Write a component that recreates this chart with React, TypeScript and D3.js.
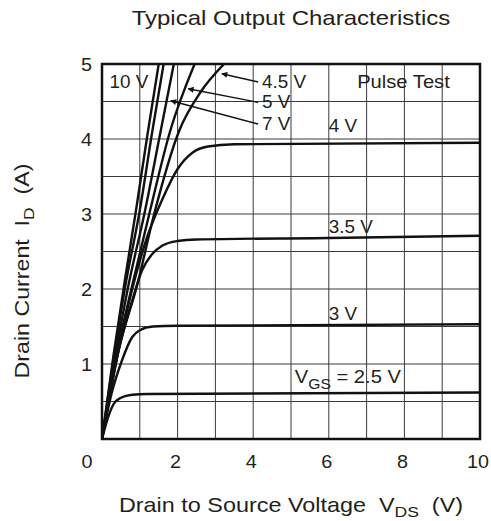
import React from "react";
import * as d3 from "d3";

// drain-source voltage (V) vs drain current (A)
const vgs10 = [[0, 0], [0.3, 1.1], [0.6, 2.1], [0.9, 3.05], [1.2, 4.05], [1.5, 5]];
const vgs8 = [[0, 0], [0.3, 1.05], [0.62, 2.05], [1.0, 3.05], [1.33, 4.1], [1.63, 5]];
const vgs7 = [[0, 0], [0.35, 1.1], [0.7, 2.05], [1.12, 3.0], [1.55, 4.1], [1.9, 5]];
const vgs5 = [[0, 0], [0.4, 1.15], [0.8, 2.05], [1.25, 3.0], [1.8, 4.1], [2.45, 5]];
const vgs45 = [[0, 0], [0.45, 1.2], [0.93, 2.05], [1.38, 3.0], [2.05, 4.12], [2.6, 4.62], [3.23, 5]];
const vgs4 = [[0, 0], [0.4, 1.1], [0.8, 2.0], [1.2, 2.7], [1.6, 3.2], [2.0, 3.6], [2.4, 3.82], [2.8, 3.9], [3.5, 3.93], [10, 3.95]];
const vgs35 = [[0, 0], [0.4, 1.1], [0.8, 1.85], [1.06, 2.25], [1.3, 2.45], [1.6, 2.58], [2.0, 2.64], [2.5, 2.66], [6, 2.68], [10, 2.71]];
const vgs3 = [[0, 0], [0.25, 0.6], [0.53, 1.05], [0.8, 1.36], [1.0, 1.45], [1.35, 1.5], [2, 1.51], [10, 1.53]];
const vgs25 = [[0, 0], [0.15, 0.27], [0.3, 0.46], [0.5, 0.55], [0.8, 0.59], [1.2, 0.6], [10, 0.62]];

const curves = [vgs10, vgs8, vgs7, vgs5, vgs45, vgs4, vgs35, vgs3, vgs25];

const xTicks = [2, 4, 6, 8, 10];
const yTicks = [1, 2, 3, 4, 5];

// arrow labels: text, tail (V, A), tip (V, A)
const arrowLabels = [
  { text: "4.5 V", tail: [4.13, 4.76], tip: [3.17, 4.87] },
  { text: "5 V", tail: [4.13, 4.49], tip: [2.28, 4.67] },
  { text: "7 V", tail: [4.13, 4.2], tip: [1.82, 4.51] },
];

const W = 491;
const H = 521;
const FONT = "'Liberation Sans', Arial, Helvetica, sans-serif";
const INK = "#231f20";

// text that is a bit wider than the font, as in the scanned sheet
const Txt = ({ x, y, size = 18, sx = 1, anchor = "start", rotate = 0, children }: any) => (
  <text
    transform={`translate(${x},${y}) rotate(${rotate}) scale(${sx},1)`}
    textAnchor={anchor}
    fontSize={size}
    fill={INK}
    style={{ whiteSpace: "pre" }}
  >
    {children}
  </text>
);

export default function App() {
  const x = d3.scaleLinear().domain([0, 10]).range([102, 480]);
  const y = d3.scaleLinear().domain([0, 5]).range([439, 64]);

  const line = d3
    .line<number[]>()
    .x((d) => x(d[0]))
    .y((d) => y(Math.min(d[1], 5)))
    .curve(d3.curveMonotoneX);

  const gridX = d3.range(1, 10);
  const gridY = d3.range(0.5, 5, 0.5);

  return (
    <svg
      width={W}
      height={H}
      style={{ position: "absolute", left: 0, top: 0, background: "#fff" }}
      fontFamily={FONT}
    >
      <defs>
        <clipPath id="plot">
          <rect x={x(0)} y={y(5)} width={x(10) - x(0)} height={y(0) - y(5)} />
        </clipPath>
        <marker id="head" viewBox="0 0 10 10" refX="9" refY="5" markerWidth="10" markerHeight="6" orient="auto" markerUnits="userSpaceOnUse">
          <path d="M0,0 L10,5 L0,10 z" fill="#111" />
        </marker>
      </defs>

      <Txt x={291} y={25} size={20} sx={1.2} anchor="middle">
        Typical Output Characteristics
      </Txt>

      {gridX.map((v) => (
        <line key={"gx" + v} x1={x(v)} x2={x(v)} y1={y(0)} y2={y(5)} stroke="#3a3a3a" strokeWidth={1} />
      ))}
      {gridY.map((v) => (
        <line key={"gy" + v} x1={x(0)} x2={x(10)} y1={y(v)} y2={y(v)} stroke="#3a3a3a" strokeWidth={1} />
      ))}

      <g clipPath="url(#plot)">
        {curves.map((c, i) => (
          <path key={i} d={line(c) ?? ""} fill="none" stroke="#111" strokeWidth={2.4} strokeLinejoin="round" />
        ))}
      </g>

      <rect x={x(0)} y={y(5)} width={x(10) - x(0)} height={y(0) - y(5)} fill="none" stroke="#111" strokeWidth={2.5} />

      {arrowLabels.map((a) => (
        <g key={a.text}>
          <line
            x1={x(a.tail[0])}
            y1={y(a.tail[1])}
            x2={x(a.tip[0])}
            y2={y(a.tip[1])}
            stroke="#111"
            strokeWidth={1.4}
            markerEnd="url(#head)"
          />
          <Txt x={x(a.tail[0]) + 4} y={y(a.tail[1]) + 6} size={18} sx={1.05}>
            {a.text}
          </Txt>
        </g>
      ))}

      <Txt x={x(0.2)} y={88} size={18} sx={1.05}>10 V</Txt>
      <Txt x={x(6.75)} y={88} size={18} sx={1.12}>Pulse Test</Txt>
      <Txt x={x(6.0)} y={132} size={18} sx={1.05}>4 V</Txt>
      <Txt x={x(6.0)} y={233} size={18} sx={1.05}>3.5 V</Txt>
      <Txt x={x(6.0)} y={320} size={18} sx={1.05}>3 V</Txt>
      <Txt x={x(5.1)} y={383} size={18} sx={1.12}>
        V<tspan fontSize={14} dy={6}>GS</tspan>
        <tspan dy={-6}> = 2.5 V</tspan>
      </Txt>

      {xTicks.map((v) => (
        <Txt key={"xt" + v} x={x(v) - 2} y={468} size={18} sx={1.1} anchor="middle">
          {v}
        </Txt>
      ))}
      <Txt x={x(0) - 15} y={468} size={18} sx={1.1} anchor="middle">0</Txt>
      {yTicks.map((v) => (
        <Txt key={"yt" + v} x={92} y={y(v) + 7} size={18} sx={1.1} anchor="end">
          {v}
        </Txt>
      ))}

      <Txt x={291} y={512} size={20} sx={1.17} anchor="middle">
        Drain to Source Voltage  V<tspan fontSize={15} dy={5}>DS</tspan>
        <tspan dy={-5}>  (V)</tspan>
      </Txt>
      <Txt x={29} y={271} size={20} sx={1.16} anchor="middle" rotate={-90}>
        Drain Current  I<tspan fontSize={15} dy={5}>D</tspan>
        <tspan dy={-5}>  (A)</tspan>
      </Txt>
    </svg>
  );
}
